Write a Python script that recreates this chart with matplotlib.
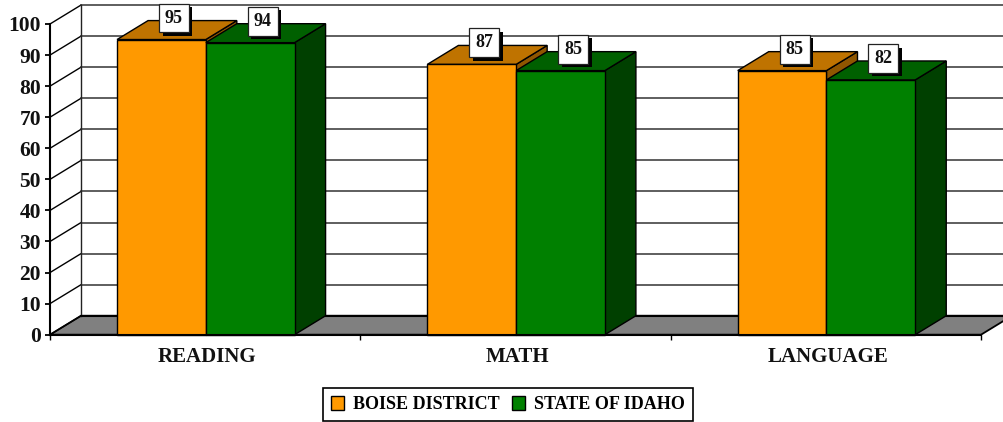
import matplotlib
matplotlib.use("Agg")
import matplotlib.pyplot as plt
from matplotlib.patches import Polygon, Patch
from matplotlib.patheffects import SimplePatchShadow, Normal

# values
categories = ["READING", "MATH", "LANGUAGE"]
boise = [95, 87, 85]
idaho = [94, 85, 82]
series_names = ["BOISE DISTRICT", "STATE OF IDAHO"]
y_ticks = list(range(0, 101, 10))

# front, top, side colours
ORANGE = ("#FF9900", "#BF7300", "#8F5600")
GREEN = ("#008000", "#006000", "#004000")

BAR_W = 0.286
GAP = 0.216
DX = 0.1   # depth of the 3d box, in category units
DY = 6.1   # depth of the 3d box, in value units
SERIF = "Liberation Serif"

fig = plt.figure(figsize=(10.04, 4.22), dpi=100, facecolor="white")
ax = fig.add_axes([50 / 1004, (422 - 334.7) / 422, 931 / 1004, 310.7 / 422])
ax.set_xlim(0, 3)
ax.set_ylim(0, 100)
ax.patch.set_alpha(0)


def poly(pts, fc, z, lw=1.0, ec="black"):
    ax.add_patch(Polygon(pts, closed=True, facecolor=fc, edgecolor=ec, linewidth=lw,
                         zorder=z, clip_on=False, joinstyle="miter"))


# floor and walls
poly([(0, 0), (DX, DY), (3 + DX, DY), (3, 0)], "#808080", 1, lw=1.3)
for v in y_ticks:
    ax.plot([0, DX], [v, v + DY], color="black", lw=1.0, zorder=1.5, clip_on=False)
    if v > 0:
        ax.plot([DX, 3 + DX], [v + DY, v + DY], color="#333333", lw=1.1, zorder=1.5, clip_on=False)
ax.plot([DX, DX], [DY, 100 + DY], color="#222222", lw=1.0, zorder=1.5, clip_on=False)
ax.plot([DX, 3 + DX], [DY, DY], color="black", lw=1.5, zorder=1.6, clip_on=False)


def bar3d(x, v, cols, z):
    poly([(x + BAR_W, 0), (x + BAR_W + DX, DY), (x + BAR_W + DX, v + DY), (x + BAR_W, v)], cols[2], z)
    poly([(x, v), (x + DX, v + DY), (x + BAR_W + DX, v + DY), (x + BAR_W, v)], cols[1], z)
    poly([(x, 0), (x, v), (x + BAR_W, v), (x + BAR_W, 0)], cols[0], z + 0.1)


def value_label(x, v):
    t = ax.annotate(str(v), (x + BAR_W / 2, v), xytext=(9, 15.5),
                    textcoords="offset points", ha="center", va="center",
                    family=SERIF, fontweight="bold", fontsize=13, color="#111111",
                    zorder=8, annotation_clip=False,
                    bbox=dict(boxstyle="square,pad=0.33", fc="white", ec="#222222", lw=0.9))
    t.get_bbox_patch().set_path_effects([
        SimplePatchShadow(offset=(2.6, -2.6), shadow_rgbFace="black", alpha=1), Normal()])


for i in range(len(categories)):
    bar3d(i + GAP, boise[i], ORANGE, 3)
    bar3d(i + GAP + BAR_W, idaho[i], GREEN, 4)
    value_label(i + GAP, boise[i])
    value_label(i + GAP + BAR_W, idaho[i])

# axes
for s in ["top", "right"]:
    ax.spines[s].set_visible(False)
ax.spines["left"].set_linewidth(1.5)
ax.spines["bottom"].set_linewidth(1.5)
ax.spines["left"].set_zorder(6)
ax.spines["bottom"].set_zorder(6)

ax.set_yticks(y_ticks)
ax.set_yticklabels([str(v) for v in y_ticks], family=SERIF, fontweight="bold", fontsize=15.5, color="#111111")
ax.tick_params(axis="y", length=3.5, width=1.3, pad=3)
ax.set_xticks([0, 1, 2, 3])
ax.set_xticklabels([])
ax.tick_params(axis="x", which="major", length=3.5, width=1.0)
ax.set_xticks([0.507, 1.505, 2.507], minor=True)
ax.set_xticklabels(categories, minor=True, family=SERIF, fontweight="bold", fontsize=15, color="#111111")
ax.tick_params(axis="x", which="minor", length=0, pad=8.5)

handles = [Patch(facecolor=ORANGE[0], edgecolor="black", linewidth=1.0, label=series_names[0]),
           Patch(facecolor=GREEN[0], edgecolor="black", linewidth=1.0, label=series_names[1])]
leg = fig.legend(handles=handles, ncol=2, loc="center", bbox_to_anchor=(508 / 1004, (422 - 404.5) / 422),
                 frameon=True, fancybox=False, edgecolor="black", framealpha=1,
                 prop=dict(family=SERIF, weight="bold", size=13),
                 handlelength=0.7, handleheight=0.8, handletextpad=0.5, columnspacing=0.7,
                 borderpad=0.45, borderaxespad=0)
leg.get_frame().set_linewidth(1.2)

fig.savefig("out.png", dpi=100)
